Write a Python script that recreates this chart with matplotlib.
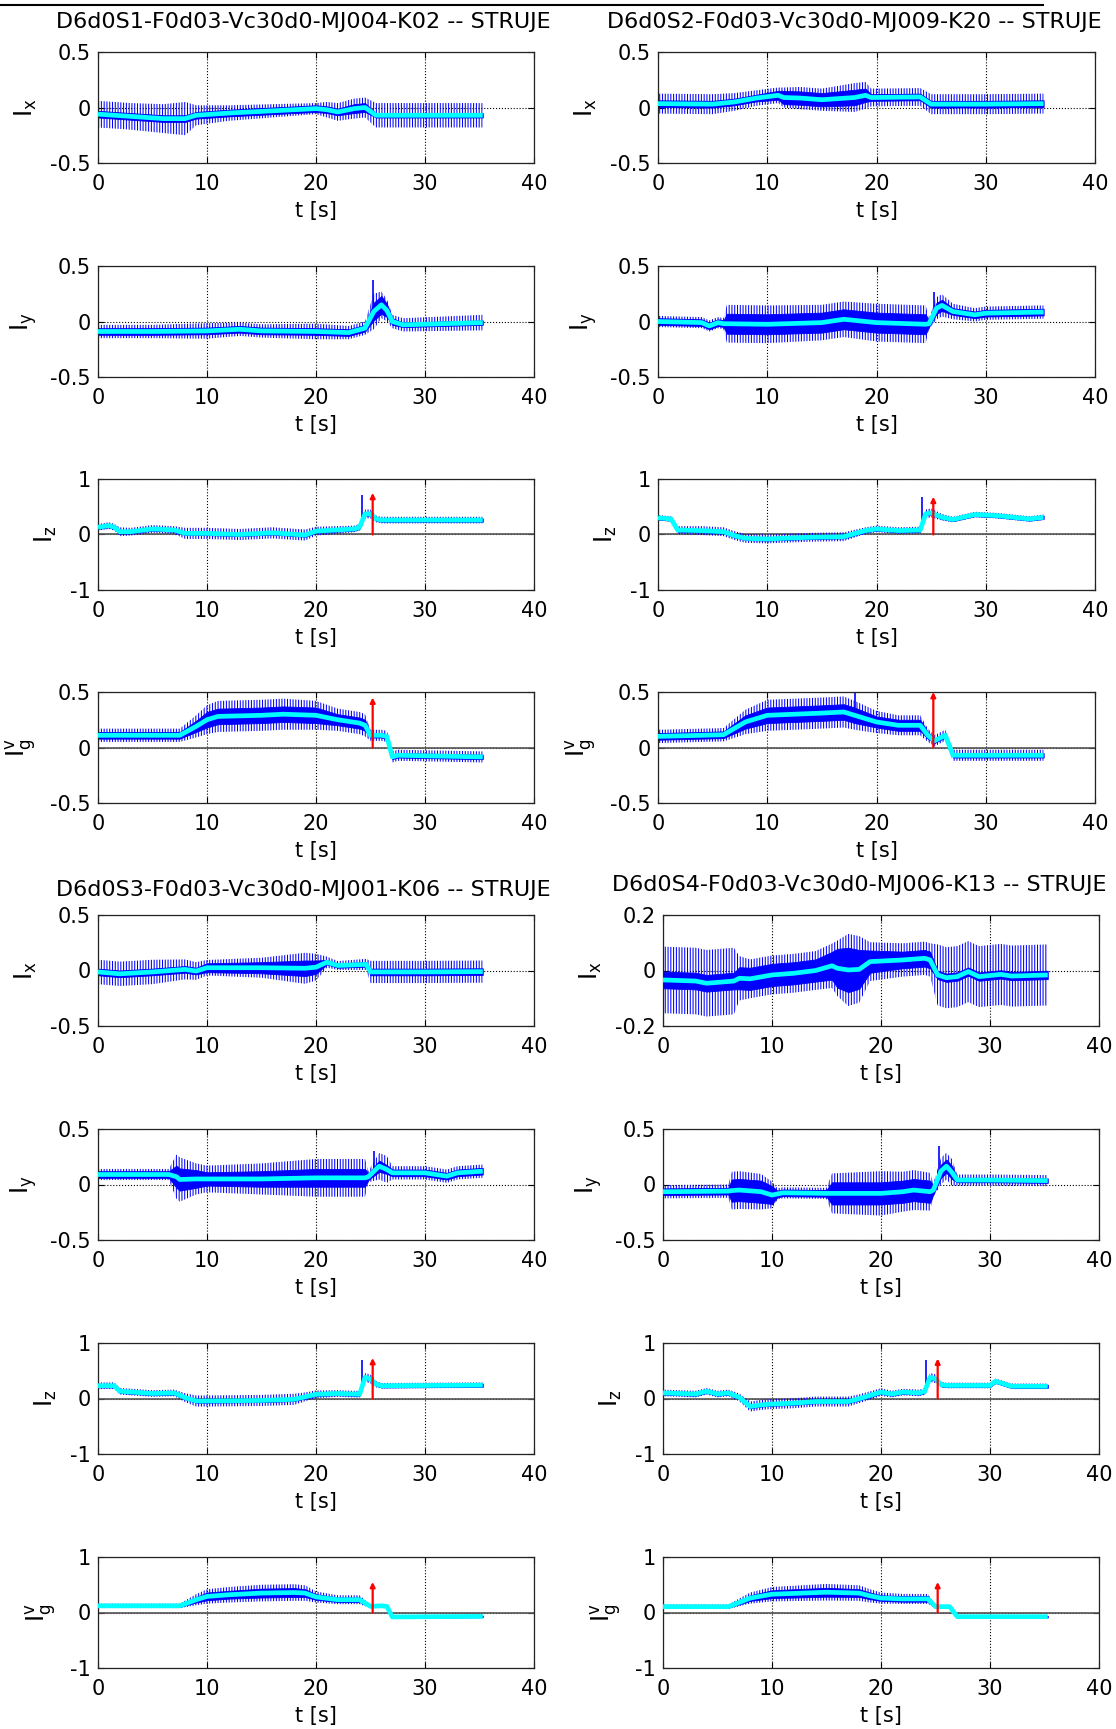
import matplotlib
matplotlib.use('Agg')
import matplotlib.pyplot as plt
from matplotlib.lines import Line2D
from matplotlib.ticker import FormatStrFormatter

plt.rcParams['font.family'] = ['DejaVu Sans']
plt.rcParams['mathtext.default'] = 'regular'
plt.rcParams['axes.unicode_minus'] = False
plt.rcParams['hatch.color'] = 'blue'
plt.rcParams['hatch.linewidth'] = 0.75

TITLES = ['D6d0S1-F0d03-Vc30d0-MJ004-K02 -- STRUJE',
          'D6d0S2-F0d03-Vc30d0-MJ009-K20 -- STRUJE',
          'D6d0S3-F0d03-Vc30d0-MJ001-K06 -- STRUJE',
          'D6d0S4-F0d03-Vc30d0-MJ006-K13 -- STRUJE']
YLABELS = ['$I_x$', '$I_y$', '$I_z$', '$I_g^v$']
XLABEL = 't [s]'
XTICKS = [0, 10, 20, 30, 40]
ARROW_T = 25.2

# ---- S1 ----
S1_IX_T = [0, 3, 6, 8, 9, 12, 16, 20, 21, 22, 23.5, 24.5, 25.5, 30, 35.3]
S1_IX_M = [-0.06, -0.08, -0.10, -0.10, -0.07, -0.05, -0.03, -0.01, -0.02, -0.04, -0.01, 0.0, -0.07, -0.07, -0.07]
S1_IX_CORE = [0.03, 0.03, 0.03, 0.03, 0.03, 0.03, 0.03, 0.03, 0.03, 0.03, 0.04, 0.04, 0.02, 0.02, 0.02]
S1_IX_SPIKE = [0.12, 0.12, 0.13, 0.15, 0.09, 0.07, 0.06, 0.05, 0.07, 0.08, 0.09, 0.09, 0.11, 0.11, 0.11]

S1_IY_T = [0, 5, 10, 13, 15, 20, 23, 24.5, 25.3, 26, 26.5, 27, 28, 35.3]
S1_IY_M = [-0.09, -0.09, -0.085, -0.07, -0.085, -0.09, -0.1, -0.06, 0.09, 0.15, 0.1, 0.0, -0.03, -0.01]
S1_IY_CORE = [0.03, 0.03, 0.03, 0.03, 0.03, 0.03, 0.03, 0.03, 0.08, 0.08, 0.06, 0.03, 0.02, 0.02]
S1_IY_SPIKE = [0.06, 0.06, 0.07, 0.06, 0.06, 0.07, 0.06, 0.06, 0.16, 0.12, 0.1, 0.06, 0.06, 0.07]

S1_IZ_T = [0, 1, 1.5, 2, 3, 5, 7, 8, 10, 13, 16, 19, 20, 23.5, 24, 24.5, 25, 25.5, 26, 35.3]
S1_IZ_M = [0.13, 0.16, 0.13, 0.05, 0.05, 0.1, 0.08, 0.02, 0.02, 0.0, 0.03, -0.01, 0.06, 0.1, 0.13, 0.37, 0.37, 0.28, 0.26, 0.26]
S1_IZ_CORE = [0.03] * 20
S1_IZ_SPIKE = [0.06, 0.06, 0.06, 0.08, 0.07, 0.07, 0.07, 0.1, 0.1, 0.1, 0.1, 0.1, 0.08, 0.06, 0.06, 0.08, 0.08, 0.06, 0.06, 0.06]

S1_IGV_T = [0, 7.5, 9, 10, 11, 15, 17, 20, 22, 24, 24.5, 25, 26, 26.5, 27, 27.5, 35.3]
S1_IGV_M = [0.11, 0.11, 0.19, 0.25, 0.28, 0.29, 0.3, 0.29, 0.25, 0.22, 0.2, 0.11, 0.11, 0.1, -0.085, -0.07, -0.085]
S1_IGV_CORE = [0.03, 0.03, 0.05, 0.07, 0.07, 0.07, 0.07, 0.07, 0.05, 0.05, 0.05, 0.02, 0.02, 0.02, 0.02, 0.02, 0.02]
S1_IGV_SPIKE = [0.06, 0.06, 0.1, 0.13, 0.14, 0.14, 0.14, 0.13, 0.1, 0.1, 0.1, 0.05, 0.05, 0.05, 0.05, 0.05, 0.05]

# ---- S2 ----
S2_IX_T = [0, 5, 7, 9, 11, 11.5, 13, 15, 18, 19, 19.5, 24, 25, 30, 35.3]
S2_IX_M = [0.035, 0.03, 0.05, 0.085, 0.11, 0.09, 0.085, 0.07, 0.09, 0.11, 0.09, 0.095, 0.03, 0.03, 0.035]
S2_IX_CORE = [0.03, 0.03, 0.03, 0.03, 0.04, 0.06, 0.06, 0.06, 0.07, 0.06, 0.03, 0.03, 0.03, 0.03, 0.03]
S2_IX_SPIKE = [0.09, 0.09, 0.08, 0.07, 0.07, 0.09, 0.1, 0.1, 0.13, 0.12, 0.08, 0.08, 0.09, 0.09, 0.09]

S2_IY_T = [0, 4, 4.7, 5.5, 6, 6.3, 10, 15, 17, 20, 24.5, 24.8, 25.5, 26, 27, 29, 30, 35.3]
S2_IY_M = [0.0, -0.01, -0.04, -0.01, -0.02, -0.02, -0.025, -0.01, 0.02, -0.01, -0.025, -0.02, 0.12, 0.145, 0.09, 0.06, 0.075, 0.085]
S2_IY_CORE = [0.03, 0.03, 0.03, 0.03, 0.03, 0.09, 0.09, 0.09, 0.09, 0.09, 0.09, 0.03, 0.05, 0.05, 0.03, 0.03, 0.03, 0.03]
S2_IY_SPIKE = [0.05, 0.05, 0.05, 0.05, 0.05, 0.17, 0.17, 0.16, 0.16, 0.17, 0.17, 0.05, 0.1, 0.1, 0.07, 0.06, 0.06, 0.06]

S2_IZ_T = [0, 1.2, 1.8, 4, 6, 7, 8, 10, 14, 17, 19, 20, 22, 24, 24.5, 25, 26, 27, 29, 31, 34, 35.3]
S2_IZ_M = [0.3, 0.28, 0.08, 0.07, 0.05, -0.02, -0.07, -0.08, -0.05, -0.04, 0.07, 0.1, 0.07, 0.08, 0.37, 0.39, 0.31, 0.27, 0.36, 0.34, 0.28, 0.31]
S2_IZ_CORE = [0.03] * 22
S2_IZ_SPIKE = [0.05, 0.05, 0.07, 0.08, 0.08, 0.08, 0.08, 0.08, 0.08, 0.08, 0.06, 0.06, 0.06, 0.06, 0.08, 0.08, 0.06, 0.05, 0.05, 0.05, 0.05, 0.05]

S2_IGV_T = [0, 6, 8, 10, 15, 17, 18, 20, 22, 24, 24.7, 25.3, 26.3, 27, 35.3]
S2_IGV_M = [0.1, 0.115, 0.23, 0.29, 0.31, 0.32, 0.29, 0.23, 0.2, 0.2, 0.11, 0.06, 0.11, -0.07, -0.07]
S2_IGV_CORE = [0.03, 0.03, 0.06, 0.07, 0.07, 0.07, 0.07, 0.05, 0.05, 0.05, 0.03, 0.02, 0.02, 0.02, 0.02]
S2_IGV_SPIKE = [0.06, 0.06, 0.11, 0.14, 0.14, 0.14, 0.13, 0.1, 0.09, 0.09, 0.06, 0.05, 0.05, 0.05, 0.05]

# ---- S3 ----
S3_IX_T = [0, 2, 5, 8, 9, 10, 15, 19, 20, 21, 22, 24.6, 25, 30, 35.3]
S3_IX_M = [-0.013, -0.03, -0.013, 0.01, -0.005, 0.025, 0.025, 0.02, 0.03, 0.075, 0.045, 0.055, -0.013, -0.013, -0.01]
S3_IX_CORE = [0.03, 0.03, 0.03, 0.03, 0.03, 0.04, 0.05, 0.07, 0.06, 0.02, 0.02, 0.02, 0.03, 0.03, 0.03]
S3_IX_SPIKE = [0.11, 0.11, 0.11, 0.09, 0.08, 0.07, 0.09, 0.14, 0.12, 0.05, 0.04, 0.05, 0.1, 0.1, 0.1]

S3_IY_T = [0, 6.5, 7.2, 7.5, 9, 10, 15, 20, 24.5, 24.8, 25.8, 26.5, 27, 30, 32, 33, 35.3]
S3_IY_M = [0.09, 0.09, 0.07, 0.045, 0.05, 0.05, 0.05, 0.06, 0.06, 0.07, 0.165, 0.135, 0.105, 0.105, 0.075, 0.105, 0.12]
S3_IY_CORE = [0.03, 0.03, 0.1, 0.1, 0.08, 0.06, 0.07, 0.08, 0.08, 0.03, 0.05, 0.04, 0.03, 0.03, 0.03, 0.03, 0.03]
S3_IY_SPIKE = [0.05, 0.05, 0.2, 0.2, 0.14, 0.12, 0.14, 0.17, 0.17, 0.05, 0.12, 0.12, 0.06, 0.06, 0.06, 0.06, 0.06]

S3_IZ_T = [0, 1.5, 2, 5, 7, 8, 9, 10, 15, 18, 19, 20, 22, 24, 24.5, 25, 25.5, 26, 35.3]
S3_IZ_M = [0.23, 0.23, 0.13, 0.09, 0.1, 0.015, -0.045, -0.045, -0.035, -0.015, 0.03, 0.075, 0.09, 0.075, 0.38, 0.35, 0.26, 0.23, 0.24]
S3_IZ_CORE = [0.03] * 19
S3_IZ_SPIKE = [0.06, 0.06, 0.06, 0.06, 0.06, 0.08, 0.1, 0.1, 0.1, 0.1, 0.08, 0.07, 0.06, 0.06, 0.08, 0.08, 0.06, 0.05, 0.05]

S3_IGV_T = [0, 7.5, 9, 10, 12, 15, 18, 19, 20, 22, 24, 25, 26, 26.5, 27, 35.3]
S3_IGV_M = [0.12, 0.12, 0.23, 0.29, 0.32, 0.35, 0.36, 0.35, 0.28, 0.23, 0.23, 0.11, 0.12, 0.11, -0.08, -0.07]
S3_IGV_CORE = [0.02, 0.02, 0.05, 0.07, 0.07, 0.08, 0.08, 0.07, 0.05, 0.04, 0.04, 0.015, 0.015, 0.015, 0.015, 0.015]
S3_IGV_SPIKE = [0.04, 0.04, 0.1, 0.13, 0.14, 0.15, 0.15, 0.14, 0.1, 0.08, 0.08, 0.03, 0.03, 0.03, 0.03, 0.03]

# ---- S4 ----
S4_IX_T = [0, 3, 4, 6.5, 7, 8, 10, 12, 14, 15.5, 16, 17, 18, 19, 22, 24, 24.5, 25.2, 26, 27, 28, 29, 31, 32, 35.3]
S4_IX_M = [-0.034, -0.038, -0.046, -0.038, -0.028, -0.03, -0.016, -0.01, 0.0, 0.017, 0.008, 0.002, 0.004, 0.032, 0.038,
           0.044, 0.038, -0.016, -0.026, -0.022, -0.004, -0.022, -0.014, -0.02, -0.016]
S4_IX_CORE = [0.03, 0.03, 0.03, 0.03, 0.04, 0.04, 0.04, 0.04, 0.04, 0.05, 0.07, 0.08, 0.07, 0.04, 0.03, 0.03, 0.03,
              0.015, 0.015, 0.015, 0.015, 0.015, 0.015, 0.015, 0.015]
S4_IX_SPIKE = [0.12, 0.12, 0.12, 0.12, 0.08, 0.07, 0.07, 0.07, 0.07, 0.08, 0.1, 0.13, 0.12, 0.07, 0.06, 0.06, 0.06,
               0.11, 0.11, 0.11, 0.11, 0.11, 0.11, 0.11, 0.11]

S4_IY_T = [0, 6, 6.3, 7, 9, 10, 10.5, 11, 15, 15.5, 20, 22, 23, 24.5, 24.8, 25.5, 26, 26.5, 27, 30, 35.3]
S4_IY_M = [-0.065, -0.06, -0.055, -0.05, -0.065, -0.095, -0.085, -0.075, -0.08, -0.08, -0.08, -0.065, -0.05, -0.065,
           -0.05, 0.12, 0.165, 0.11, 0.04, 0.04, 0.035]
S4_IY_CORE = [0.03, 0.03, 0.1, 0.1, 0.1, 0.08, 0.03, 0.03, 0.03, 0.1, 0.1, 0.1, 0.1, 0.1, 0.04, 0.06, 0.06, 0.06,
              0.02, 0.02, 0.02]
S4_IY_SPIKE = [0.06, 0.06, 0.17, 0.17, 0.16, 0.12, 0.05, 0.05, 0.05, 0.18, 0.2, 0.18, 0.18, 0.17, 0.06, 0.12, 0.12,
               0.12, 0.05, 0.05, 0.05]

S4_IZ_T = [0, 3, 4, 5, 6, 7, 8, 9, 10, 12, 14, 17, 18, 20, 21, 22, 23.5, 24, 24.5, 25, 25.5, 26, 30, 30.5, 32, 35.3]
S4_IZ_M = [0.1, 0.08, 0.13, 0.08, 0.1, 0.02, -0.145, -0.115, -0.1, -0.085, -0.055, -0.055, -0.005, 0.115, 0.08,
           0.115, 0.1, 0.125, 0.38, 0.355, 0.25, 0.235, 0.235, 0.31, 0.22, 0.22]
S4_IZ_CORE = [0.03] * 26
S4_IZ_SPIKE = [0.06, 0.06, 0.06, 0.06, 0.06, 0.07, 0.09, 0.09, 0.09, 0.09, 0.09, 0.09, 0.08, 0.07, 0.06, 0.06, 0.06,
               0.06, 0.08, 0.08, 0.05, 0.05, 0.05, 0.05, 0.05, 0.05]

S4_IGV_T = [0, 6, 8, 10, 15, 18, 19, 20, 22, 24.3, 25, 26.3, 27, 35.3]
S4_IGV_M = [0.105, 0.105, 0.26, 0.33, 0.365, 0.35, 0.3, 0.26, 0.245, 0.245, 0.105, 0.105, -0.075, -0.075]
S4_IGV_CORE = [0.02, 0.02, 0.05, 0.07, 0.08, 0.07, 0.06, 0.05, 0.05, 0.05, 0.015, 0.015, 0.015, 0.015]
S4_IGV_SPIKE = [0.04, 0.04, 0.1, 0.13, 0.15, 0.14, 0.12, 0.1, 0.09, 0.09, 0.03, 0.03, 0.03, 0.03]

# isolated spikes (t, bottom, top) and red arrow tops per panel
S1_PEAKS = [None, (25.2, 0.05, 0.37), (24.2, 0.15, 0.72), None]
S2_PEAKS = [None, (25.3, 0.05, 0.27), (24.2, 0.15, 0.67), (18.0, 0.3, 0.5)]
S3_PEAKS = [None, (25.3, 0.1, 0.3), (24.2, 0.15, 0.7), None]
S4_PEAKS = [None, (25.3, 0.05, 0.35), (24.1, 0.15, 0.7), None]
ARROW_TOPS = [[None, None, 0.75, 0.45], [None, None, 0.68, 0.5],
              [None, None, 0.73, 0.55], [None, None, 0.72, 0.55]]

YLIMS = [[0.5, 0.5, 1, 0.5], [0.5, 0.5, 1, 0.5], [0.5, 0.5, 1, 1], [0.2, 0.5, 1, 1]]

GROUPS = [
    [(S1_IX_T, S1_IX_M, S1_IX_CORE, S1_IX_SPIKE), (S1_IY_T, S1_IY_M, S1_IY_CORE, S1_IY_SPIKE),
     (S1_IZ_T, S1_IZ_M, S1_IZ_CORE, S1_IZ_SPIKE), (S1_IGV_T, S1_IGV_M, S1_IGV_CORE, S1_IGV_SPIKE)],
    [(S2_IX_T, S2_IX_M, S2_IX_CORE, S2_IX_SPIKE), (S2_IY_T, S2_IY_M, S2_IY_CORE, S2_IY_SPIKE),
     (S2_IZ_T, S2_IZ_M, S2_IZ_CORE, S2_IZ_SPIKE), (S2_IGV_T, S2_IGV_M, S2_IGV_CORE, S2_IGV_SPIKE)],
    [(S3_IX_T, S3_IX_M, S3_IX_CORE, S3_IX_SPIKE), (S3_IY_T, S3_IY_M, S3_IY_CORE, S3_IY_SPIKE),
     (S3_IZ_T, S3_IZ_M, S3_IZ_CORE, S3_IZ_SPIKE), (S3_IGV_T, S3_IGV_M, S3_IGV_CORE, S3_IGV_SPIKE)],
    [(S4_IX_T, S4_IX_M, S4_IX_CORE, S4_IX_SPIKE), (S4_IY_T, S4_IY_M, S4_IY_CORE, S4_IY_SPIKE),
     (S4_IZ_T, S4_IZ_M, S4_IZ_CORE, S4_IZ_SPIKE), (S4_IGV_T, S4_IGV_M, S4_IGV_CORE, S4_IGV_SPIKE)],
]
PEAKS = [S1_PEAKS, S2_PEAKS, S3_PEAKS, S4_PEAKS]

W, H = 1116, 1729
fig = plt.figure(figsize=(W / 100, H / 100), dpi=100)

# layout in pixels
COL_LEFT = [[98, 658], [98, 663]]
COL_W = [[436, 437], [436, 436]]
ROW_TOP = [[52, 266, 479, 692], [915, 1129, 1343, 1557]]
AX_H = 111
TITLE_X = [[303, 854], [303, 859]]
TITLE_Y = [[22, 22], [890, 885]]

for g in range(4):
    half, col = g // 2, g % 2
    left = COL_LEFT[half][col]
    width = COL_W[half][col]
    fig.text(TITLE_X[half][col] / W, 1 - TITLE_Y[half][col] / H, TITLES[g],
             ha='center', va='center', fontsize=16)
    for r in range(4):
        top = ROW_TOP[half][r]
        ax = fig.add_axes([left / W, 1 - (top + AX_H) / H, width / W, AX_H / H])
        t, m, core, spike = GROUPS[g][r]
        lo_s = [a - b for a, b in zip(m, spike)]
        hi_s = [a + b for a, b in zip(m, spike)]
        lo_c = [a - b for a, b in zip(m, core)]
        hi_c = [a + b for a, b in zip(m, core)]
        lim = YLIMS[g][r]
        ax.set_xlim(0, 40)
        ax.set_ylim(-lim, lim)
        ax.set_xticks(XTICKS)
        ax.set_yticks([-lim, 0, lim])
        ax.yaxis.set_major_formatter(FormatStrFormatter('%g'))
        ax.grid(True, linestyle=':', color='k', linewidth=0.8)
        ax.set_axisbelow(True)
        if r >= 2:
            ax.axhline(0, color='#555555', linewidth=1.2, zorder=1.5)
        ax.fill_between(t, lo_s, hi_s, facecolor='none', edgecolor='blue', hatch='||||||',
                        linewidth=0, zorder=2)
        ax.fill_between(t, lo_c, hi_c, color='blue', linewidth=0.6, zorder=2.2)
        pk = PEAKS[g][r]
        if pk is not None:
            ax.vlines(pk[0], pk[1], pk[2], color='blue', linewidth=1.2, zorder=2.3)
        ax.plot(t, m, color='cyan', linewidth=3.4, solid_capstyle='butt', zorder=3)
        at = ARROW_TOPS[g][r]
        if at is not None:
            ax.annotate('', xy=(ARROW_T, at), xytext=(ARROW_T, 0),
                        arrowprops=dict(arrowstyle='-|>', color='red', lw=1.6,
                                        mutation_scale=7, shrinkA=0, shrinkB=0),
                        zorder=4)
        ax.tick_params(direction='in', length=4, width=0.8, top=True, right=True,
                       labelsize=15)
        ax.tick_params(axis='x', pad=8)
        ax.tick_params(axis='y', pad=5)
        for s in ax.spines.values():
            s.set_linewidth(0.9)
            s.set_color('#222222')
        ax.set_xlabel(XLABEL, fontsize=15, labelpad=5)
        ax.set_ylabel(YLABELS[r], fontsize=17, labelpad=8)

fig.add_artist(Line2D([0, 1043 / W], [1 - 5 / H, 1 - 5 / H], transform=fig.transFigure,
                      color='k', linewidth=1.5))

fig.savefig('out.png', dpi=100)
